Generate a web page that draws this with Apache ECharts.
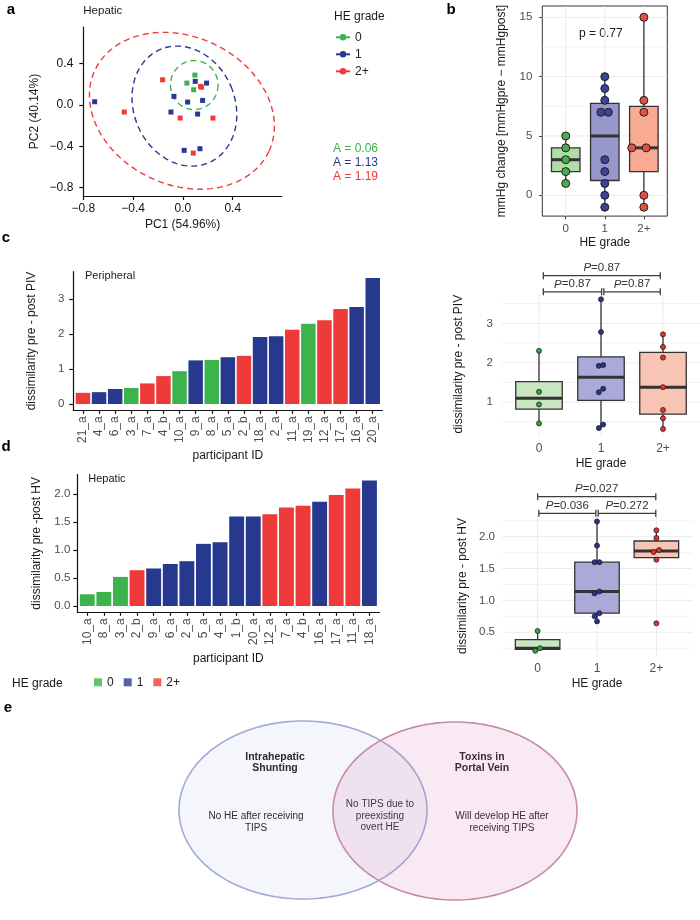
<!DOCTYPE html>
<html>
<head>
<meta charset="utf-8">
<title>TIPS microbiome figure</title>
<script src="https://cdn.jsdelivr.net/npm/echarts@6.0.0/dist/echarts.min.js"></script>
<style>
  html, body { margin: 0; padding: 0; background: #fff; }
  #chart { width: 700px; height: 920px; }
</style>
</head>
<body>
<div id="chart"></div>
<script>
// a: PCoA, b: pressure change, c/d: dissimilarity bars + boxes, e: venn

const FONT = "'Liberation Sans', Arial, Helvetica, sans-serif";
const GRADES = ["0", "1", "2+"];
const GRADE_COL = ["#3cb44b", "#27398f", "#ee3b39"];

// ---- a: PCoA of hepatic samples, [PC1, PC2]
const pcoaG0 = [[0.096, 0.286], [0.032, 0.209], [0.086, 0.145], [0.150, 0.168]];
const pcoaG1 = [[0.099, 0.226], [0.190, 0.209], [-0.072, 0.081], [0.038, 0.026], [0.158, 0.042],
  [-0.096, -0.070], [0.118, -0.090], [-0.709, 0.029], [0.010, -0.440], [0.137, -0.424]];
const pcoaG2 = [[-0.163, 0.241], [0.142, 0.177], [-0.022, -0.128], [0.241, -0.128], [-0.471, -0.070], [0.083, -0.466]];
// ellipses: [centre PC1, centre PC2, semi-axis a, semi-axis b, tilt deg]
const pcoaEllipses = [[0.091, 0.19, 0.191, 0.236, 0], [0.012, -0.013, 0.406, 0.594, -23], [-0.008, -0.058, 0.771, 0.714, 25]];
const pcoaA = ["A = 0.06", "A = 1.13", "A = 1.19"];
const pcoaTicks = [-0.8, -0.4, 0, 0.4];

// ---- b: mmHg change by HE grade, dots with their x jitter (category units)
const mmhgVals = [[5, 4, 3, 2, 1], [10, 9, 8, 7, 7, 3, 2, 1, 0, -1], [15, 8, 7, 4, 4, 0, -1]];
const mmhgJitter = [[0, 0, 0, 0, 0], [0, 0, 0, -0.1, 0.09, 0, 0, 0, 0, 0], [0, 0, 0, -0.31, 0.06, 0, 0]];
const mmhgTicks = [0, 5, 10, 15];
const mmhgP = "p = 0.77";

// ---- c: peripheral (PIV) dissimilarity per participant
const pivIds = ["21_a", "4_a", "6_a", "3_a", "7_a", "4_b", "10_a", "9_a", "8_a", "5_a", "2_b", "18_a", "2_a", "11_a", "19_a", "12_a", "17_a", "16_a", "20_a"];
const pivVals = [0.32, 0.34, 0.43, 0.46, 0.59, 0.80, 0.94, 1.25, 1.26, 1.34, 1.38, 1.92, 1.94, 2.13, 2.30, 2.40, 2.72, 2.78, 3.61];
const pivGrade = [2, 1, 1, 0, 2, 2, 0, 1, 0, 1, 2, 1, 1, 2, 0, 2, 2, 1, 1];
const pivJitter = [0, -0.035, 0.035, 0, 0, 0, 0, -0.035, 0, 0.035, 0, -0.035, 0.035, 0, 0, 0, 0, 0, 0];
const pivTicks = [0, 1, 2, 3];
const pivBrackets = [[1.07, 2.01, 3.80], [2.045, 2.956, 3.80], [1.07, 2.956, 4.21]];
const pivBracketP = ["0.87", "0.87", "0.87"];

// ---- d: hepatic (HV) dissimilarity per participant
const hvIds = ["10_a", "8_a", "3_a", "2_b", "9_a", "6_a", "2_a", "5_a", "4_a", "1_b", "20_a", "12_a", "7_a", "4_b", "16_a", "17_a", "11_a", "18_a"];
const hvVals = [0.21, 0.25, 0.52, 0.64, 0.67, 0.75, 0.80, 1.11, 1.14, 1.60, 1.60, 1.64, 1.76, 1.79, 1.86, 1.98, 2.10, 2.24];
const hvGrade = [0, 0, 0, 2, 1, 1, 1, 1, 1, 1, 1, 2, 2, 2, 1, 2, 2, 1];
const hvJitter = [-0.04, 0.04, 0, 0, 0, -0.04, 0.04, -0.04, 0.04, -0.04, 0.04, 0, -0.045, 0.045, 0, 0, 0, 0];
const hvTicks = [0, 0.5, 1, 1.5, 2];
const hvBrackets = [[1.02, 1.98, 2.367], [2.02, 2.99, 2.367], [1.0, 2.99, 2.628]];
const hvBracketP = ["0.036", "0.272", "0.027"];

// ---- e: venn sketch, page units [cx, cy, rx, ry]
const vennSets = [[303, 810, 124, 89], [455, 811, 122, 89]];
const vennText = [
  ["Intrahepatic\nShunting", 275, 762.5, true],
  ["Toxins in\nPortal Vein", 482, 762.5, true],
  ["No HE after receiving\nTIPS", 256, 822.5, false],
  ["No TIPS due to\npreexisting\novert HE", 380, 816, false],
  ["Will develop HE after\nreceiving TIPS", 502, 822.5, false],
];

// ---------- helpers
function quantile(s, p) {
  const h = (s.length - 1) * p, i = Math.floor(h);
  return i + 1 < s.length ? s[i] + (h - i) * (s[i + 1] - s[i]) : s[i];
}
function boxStats(vals) {
  const s = vals.slice().sort((a, b) => a - b);
  const q1 = quantile(s, 0.25), md = quantile(s, 0.5), q3 = quantile(s, 0.75);
  const f = 1.5 * (q3 - q1);
  const inside = s.filter((v) => v >= q1 - f && v <= q3 + f);
  return [inside[0], q1, md, q3, inside[inside.length - 1]];
}
const byGrade = (vals, grades) => [0, 1, 2].map((g) => vals.filter((v, i) => grades[i] === g));
const minus = (v) => (v < 0 ? "\u2212" : "") + Math.abs(v).toFixed(1);

function gridLines(gi, hMajor, hMinor, vMajor) {
  const data = hMajor.map((v) => [0, v, 1]).concat(hMinor.map((v) => [0, v, 0.6]), vMajor.map((v) => [1, v, 1]));
  return {
    type: "custom", xAxisIndex: gi, yAxisIndex: gi, z: 1, silent: true, data,
    renderItem(p, api) {
      const cs = p.coordSys, v = api.value(1);
      let shape;
      if (api.value(0) === 0) {
        const y = api.coord([2, v])[1];
        shape = { x1: cs.x, y1: y, x2: cs.x + cs.width, y2: y };
      } else {
        const x = api.coord([v, 1])[0];
        shape = { x1: x, y1: cs.y, x2: x, y2: cs.y + cs.height };
      }
      return { type: "line", shape, style: { stroke: "#ebebeb", lineWidth: api.value(2) } };
    },
  };
}

function boxSeries(gi, groups, fills, boxW) {
  return {
    type: "custom", xAxisIndex: gi, yAxisIndex: gi, z: 2, silent: true,
    data: groups.map((vals, i) => [i + 1].concat(boxStats(vals))),
    renderItem(p, api) {
      const x = api.value(0);
      const lo = api.coord([x, api.value(1)]), q1 = api.coord([x, api.value(2)]);
      const md = api.coord([x, api.value(3)]), q3 = api.coord([x, api.value(4)]);
      const hi = api.coord([x, api.value(5)]);
      const hw = api.size([boxW, 0])[0] / 2;
      const stroke = "#333";
      return {
        type: "group", children: [
          { type: "line", shape: { x1: lo[0], y1: lo[1], x2: hi[0], y2: hi[1] }, style: { stroke, lineWidth: 1.3 } },
          { type: "rect", shape: { x: q3[0] - hw, y: q3[1], width: 2 * hw, height: q1[1] - q3[1] },
            style: { fill: fills[p.dataIndex], stroke, lineWidth: 1.3 } },
          { type: "line", shape: { x1: md[0] - hw, y1: md[1], x2: md[0] + hw, y2: md[1] }, style: { stroke, lineWidth: 3 } },
        ],
      };
    },
  };
}

function dotSeries(gi, pts, size, border) {
  return {
    type: "scatter", xAxisIndex: gi, yAxisIndex: gi, z: 3, silent: true,
    symbol: "circle", symbolSize: size,
    itemStyle: { borderColor: "#1f1f1f", borderWidth: border, opacity: 1 },
    data: pts,
  };
}

function bracketSeries(gi, brackets, labels) {
  return {
    type: "custom", xAxisIndex: gi, yAxisIndex: gi, z: 4, silent: true, clip: false,
    data: brackets,
    renderItem(p, api) {
      const a = api.coord([api.value(0), api.value(2)]), b = api.coord([api.value(1), api.value(2)]);
      const st = { stroke: "#3d3d3d", lineWidth: 1.3 };
      return {
        type: "group", children: [
          { type: "line", shape: { x1: a[0], y1: a[1], x2: b[0], y2: b[1] }, style: st },
          { type: "line", shape: { x1: a[0], y1: a[1] - 3.5, x2: a[0], y2: a[1] + 3.5 }, style: st },
          { type: "line", shape: { x1: b[0], y1: b[1] - 3.5, x2: b[0], y2: b[1] + 3.5 }, style: st },
          { type: "text", x: (a[0] + b[0]) / 2, y: a[1] - 1.5,
            style: { text: "{i|P}=" + labels[p.dataIndex], fill: "#333", fontSize: 11.5, fontFamily: FONT,
              align: "center", verticalAlign: "bottom", textAlign: "center", textVerticalAlign: "bottom",
              rich: { i: { fontStyle: "italic", fontSize: 11.5, fontFamily: FONT, fill: "#333" } } } },
        ],
      };
    },
  };
}

function ellipseSeries(gi, ell, color) {
  return {
    type: "custom", xAxisIndex: gi, yAxisIndex: gi, z: 1, silent: true, data: [ell],
    renderItem(p, api) {
      const c = api.coord([api.value(0), api.value(1)]);
      const a = api.size([api.value(2), 0])[0], b = api.size([0, api.value(3)])[1];
      const th = api.value(4) * Math.PI / 180;
      const pts = [];
      for (let k = 0; k <= 160; k++) {
        const t = (k / 160) * 2 * Math.PI, ex = a * Math.cos(t), ey = b * Math.sin(t);
        pts.push([c[0] + ex * Math.cos(th) - ey * Math.sin(th), c[1] + ex * Math.sin(th) + ey * Math.cos(th)]);
      }
      return { type: "polyline", shape: { points: pts }, style: { stroke: color, lineWidth: 1.4, lineDash: [6, 4], fill: null } };
    },
  };
}

function vennSeries(gi) {
  const fills = ["rgba(140,150,210,0.09)", "rgba(205,110,165,0.15)"];
  const strokes = ["#a3a9d8", "#c68aab"];
  return {
    type: "custom", xAxisIndex: gi, yAxisIndex: gi, z: 1, silent: true, data: vennSets,
    renderItem(p, api) {
      const c = api.coord([api.value(0), api.value(1)]);
      const rx = api.size([api.value(2), 0])[0], ry = api.size([0, api.value(3)])[1];
      const pts = [];
      for (let k = 0; k < 180; k++) {
        const t = (k / 180) * 2 * Math.PI;
        pts.push([c[0] + rx * Math.cos(t), c[1] + ry * Math.sin(t)]);
      }
      return { type: "polygon", shape: { points: pts }, style: { fill: fills[p.dataIndex], stroke: strokes[p.dataIndex], lineWidth: 1.6 } };
    },
  };
}

// ---------- axes
const NAME_STYLE = { fontSize: 12, color: "#1a1a1a", fontFamily: FONT };
const GREY_LAB = { color: "#4d4d4d", fontSize: 11.5, fontFamily: FONT };
const catFmt = (v) => GRADES[Math.round(v) - 1];
const seq = (n) => Array.from({ length: n }, (_, i) => i + 1);

function blankAxis(gi, min, max, extra) {
  return Object.assign({
    gridIndex: gi, type: "value", min, max,
    axisLine: { show: false, onZero: false }, axisTick: { show: false },
    axisLabel: { show: false }, splitLine: { show: false },
  }, extra || {});
}

const blackLine = { show: true, onZero: false, lineStyle: { color: "#111", width: 1.2 } };
const blackTick = (vals) => ({ show: true, customValues: vals, length: 4, lineStyle: { color: "#111", width: 1.2 } });

const xAxes = [
  blankAxis(0, -0.8, 0.795, {
    axisLine: blackLine, axisTick: blackTick(pcoaTicks),
    axisLabel: { show: true, customValues: pcoaTicks, formatter: minus, color: "#111", fontSize: 12, margin: 7 },
    name: "PC1 (54.96%)", nameLocation: "middle", nameGap: 23, nameTextStyle: NAME_STYLE,
  }),
  blankAxis(1, 0.4, 3.6, {
    axisTick: { show: true, customValues: [1, 2, 3], length: 3, lineStyle: { color: "#333" } },
    axisLabel: Object.assign({ show: true, customValues: [1, 2, 3], formatter: catFmt, margin: 7 }, GREY_LAB),
    name: "HE grade", nameLocation: "middle", nameGap: 21, nameTextStyle: NAME_STYLE,
  }),
  blankAxis(2, 0.4, 19.6, {
    axisLine: blackLine,
    axisTick: { show: true, customValues: seq(pivIds.length), length: 3.5, lineStyle: { color: "#111", width: 1.2 } },
    axisLabel: Object.assign({ show: true, customValues: seq(pivIds.length), rotate: 90, margin: 6,
      formatter: (v) => pivIds[Math.round(v) - 1] }, GREY_LAB, { fontSize: 12 }),
    name: "participant ID", nameLocation: "middle", nameGap: 39, nameTextStyle: NAME_STYLE,
  }),
  blankAxis(3, 0.4, 3.6, {
    axisLabel: Object.assign({ show: true, customValues: [1, 2, 3], formatter: catFmt, margin: 7 }, GREY_LAB, { fontSize: 12 }),
    name: "HE grade", nameLocation: "middle", nameGap: 22, nameTextStyle: NAME_STYLE,
  }),
  blankAxis(4, 0.4, 18.6, {
    axisLine: blackLine,
    axisTick: { show: true, customValues: seq(hvIds.length), length: 3.5, lineStyle: { color: "#111", width: 1.2 } },
    axisLabel: Object.assign({ show: true, customValues: seq(hvIds.length), rotate: 90, margin: 6,
      formatter: (v) => hvIds[Math.round(v) - 1] }, GREY_LAB, { fontSize: 12 }),
    name: "participant ID", nameLocation: "middle", nameGap: 40, nameTextStyle: NAME_STYLE,
  }),
  blankAxis(5, 0.4, 3.6, {
    axisLabel: Object.assign({ show: true, customValues: [1, 2, 3], formatter: catFmt, margin: 6 }, GREY_LAB, { fontSize: 12 }),
    name: "HE grade", nameLocation: "middle", nameGap: 21, nameTextStyle: NAME_STYLE,
  }),
  blankAxis(6, 0, 700),
];

const yAxes = [
  blankAxis(0, -0.88, 0.75, {
    axisLine: blackLine, axisTick: blackTick(pcoaTicks),
    axisLabel: { show: true, customValues: pcoaTicks, formatter: minus, color: "#111", fontSize: 12, margin: 10 },
    name: "PC2 (40.14%)", nameLocation: "middle", nameGap: 43, nameTextStyle: NAME_STYLE,
  }),
  blankAxis(1, -1.75, 15.95, {
    axisTick: { show: true, customValues: mmhgTicks, length: 3, lineStyle: { color: "#333" } },
    axisLabel: Object.assign({ show: true, customValues: mmhgTicks, margin: 10 }, GREY_LAB),
    name: "mmHg change [mmHgpre \u2212 mmHgpost]", nameLocation: "middle", nameGap: 35, nameTextStyle: NAME_STYLE,
  }),
  blankAxis(2, -0.18, 3.79, {
    axisLine: blackLine, axisTick: blackTick(pivTicks),
    axisLabel: Object.assign({ show: true, customValues: pivTicks, margin: 9 }, GREY_LAB),
    name: "dissimilarity pre - post PIV", nameLocation: "middle", nameGap: 36, nameTextStyle: NAME_STYLE,
  }),
  blankAxis(3, 0.15, 3.775, {
    axisLabel: Object.assign({ show: true, customValues: [1, 2, 3], margin: 9 }, GREY_LAB),
    name: "dissimilarity pre - post PIV", nameLocation: "middle", nameGap: 37, nameTextStyle: NAME_STYLE,
  }),
  blankAxis(4, -0.112, 2.35, {
    axisLine: blackLine, axisTick: blackTick(hvTicks),
    axisLabel: Object.assign({ show: true, customValues: hvTicks, margin: 7, formatter: (v) => v.toFixed(1) }, GREY_LAB),
    name: "dissimilarity pre -post HV", nameLocation: "middle", nameGap: 35, nameTextStyle: NAME_STYLE,
  }),
  blankAxis(5, 0.113, 2.339, {
    axisLabel: Object.assign({ show: true, customValues: [0.5, 1, 1.5, 2], margin: 7, formatter: (v) => v.toFixed(1) }, GREY_LAB),
    name: "dissimilarity pre - post HV", nameLocation: "middle", nameGap: 33, nameTextStyle: NAME_STYLE,
  }),
  blankAxis(6, 0, 920, { inverse: true }),
];

const G = (left, top, width, height, extra) =>
  Object.assign({ left, top, width, height, containLabel: false, outerBoundsMode: "none" }, extra || {});
const grids = [
  G(83.3, 27, 198.6, 169),
  G(542.3, 6, 125, 210.1, { show: true, borderColor: "#333", borderWidth: 1, backgroundColor: "transparent" }),
  G(73.3, 271.7, 309.1, 138.6),
  G(501.8, 292.8, 198.4, 142.8),
  G(77.3, 474.4, 302.1, 137.9),
  G(502, 515.1, 190, 141.8),
  G(0, 0, 700, 920),
];

// ---------- series
const barData = (vals, grades) => vals.map((v, i) => ({ value: [i + 1, v], itemStyle: { color: GRADE_COL[grades[i]] } }));
const boxDots = (vals, grades, jit, cols) =>
  vals.map((v, i) => ({ value: [grades[i] + 1 + jit[i], v], itemStyle: { color: cols[grades[i]] } }));

const B_FILL = ["#b1dba7", "#9897cb", "#f8aa92"];
const B_DOT = ["#4cab4f", "#3d4297", "#e4503f"];
const CD_FILL = ["#c9e6c1", "#aba9d8", "#f8c4b4"];
const CD_DOT = ["#2ea73c", "#26358e", "#ee2e2a"];

const mmhgDots = [];
mmhgVals.forEach((vals, g) => vals.forEach((v, i) =>
  mmhgDots.push({ value: [g + 1 + mmhgJitter[g][i], v], itemStyle: { color: B_DOT[g] } })));

const series = [
  // a
  ...pcoaEllipses.map((e, g) => ellipseSeries(0, e, GRADE_COL[g])),
  ...[pcoaG0, pcoaG1, pcoaG2].map((pts, g) => ({
    type: "scatter", xAxisIndex: 0, yAxisIndex: 0, z: 3, silent: true, symbol: "rect", symbolSize: 5,
    itemStyle: { color: GRADE_COL[g], opacity: 1 }, data: pts,
  })),
  ...GRADES.map((g, i) => ({
    name: "ga" + i, type: "line", xAxisIndex: 0, yAxisIndex: 0, data: [], symbol: "circle", symbolSize: 6,
    itemStyle: { color: GRADE_COL[i] }, lineStyle: { color: GRADE_COL[i], width: 1.5 },
  })),
  // b
  gridLines(1, [0, 5, 10, 15], [2.5, 7.5, 12.5], [1, 2, 3]),
  boxSeries(1, mmhgVals, B_FILL, 0.73),
  dotSeries(1, mmhgDots, 8, 1),
  // c
  { type: "bar", xAxisIndex: 2, yAxisIndex: 2, barWidth: 14.5, silent: true, data: barData(pivVals, pivGrade) },
  gridLines(3, [1, 2, 3], [0.5, 1.5, 2.5, 3.5], [1, 2, 3]),
  boxSeries(3, byGrade(pivVals, pivGrade), CD_FILL, 0.75),
  dotSeries(3, boxDots(pivVals, pivGrade, pivJitter, CD_DOT), 5, 0.8),
  bracketSeries(3, pivBrackets, pivBracketP),
  // d
  { type: "bar", xAxisIndex: 4, yAxisIndex: 4, barWidth: 14.9, silent: true, data: barData(hvVals, hvGrade) },
  gridLines(5, [0.5, 1, 1.5, 2], [0.25, 0.75, 1.25, 1.75, 2.25], [1, 2, 3]),
  boxSeries(5, byGrade(hvVals, hvGrade), CD_FILL, 0.75),
  dotSeries(5, boxDots(hvVals, hvGrade, hvJitter, CD_DOT), 5, 0.8),
  bracketSeries(5, hvBrackets, hvBracketP),
  // e
  vennSeries(6),
  ...GRADES.map((g, i) => ({
    name: "gb" + i, type: "scatter", xAxisIndex: 6, yAxisIndex: 6, data: [], symbol: "rect",
    itemStyle: { color: GRADE_COL[i] },
  })),
];

// ---------- free text
function txt(text, x, y, o) {
  o = o || {};
  const align = o.align || "left";
  return {
    type: "text", x, y, silent: true,
    style: {
      text, fill: o.fill || "#1a1a1a", fontSize: o.size || 12, fontWeight: o.bold ? "bold" : "normal",
      fontFamily: FONT, lineHeight: o.lh, align, textAlign: align, verticalAlign: "middle", textVerticalAlign: "middle",
    },
  };
}

const texts = [
  txt("a", 11, 10, { bold: true, size: 15, align: "center", fill: "#000" }),
  txt("b", 451, 9.5, { bold: true, size: 15, align: "center", fill: "#000" }),
  txt("c", 6, 238, { bold: true, size: 15, align: "center", fill: "#000" }),
  txt("d", 6, 447, { bold: true, size: 15, align: "center", fill: "#000" }),
  txt("e", 8, 708, { bold: true, size: 15, align: "center", fill: "#000" }),
  txt("Hepatic", 83.3, 11, { size: 11.5 }),
  txt("HE grade", 334, 17, { size: 12 }),
  ...pcoaA.map((s, i) => txt(s, 333, 148.7 + 14 * i, { fill: GRADE_COL[i], size: 12 })),
  txt(mmhgP, 600.8, 33.3, { align: "center", size: 12 }),
  txt("Peripheral", 85, 275.7, { size: 11 }),
  txt("Hepatic", 88.3, 479, { size: 11 }),
  txt("HE grade", 12, 683.3, { size: 12 }),
  ...vennText.map((t) => txt(t[0], t[1], t[2], { align: "center", bold: t[3], size: t[3] ? 10.5 : 10, lh: t[3] ? 11.7 : 11.7, fill: "#222" })),
];

const chart = echarts.init(document.getElementById("chart"), null, { renderer: "canvas" });
chart.setOption({
  animation: false,
  backgroundColor: "#fff",
  textStyle: { fontFamily: FONT },
  grid: grids,
  xAxis: xAxes,
  yAxis: yAxes,
  legend: [
    {
      data: ["ga0", "ga1", "ga2"], orient: "vertical", left: 335, top: 31.3, padding: 0,
      itemWidth: 14, itemHeight: 8, itemGap: 5, selectedMode: false,
      formatter: (n) => GRADES[+n.slice(2)], textStyle: { fontSize: 12, color: "#1a1a1a", fontFamily: FONT },
    },
    {
      data: ["gb0", "gb1", "gb2"], orient: "horizontal", left: 94, top: 676.3, padding: 0, icon: "rect",
      itemWidth: 8, itemHeight: 8, itemGap: 10, selectedMode: false,
      formatter: (n) => GRADES[+n.slice(2)], textStyle: { fontSize: 12, color: "#1a1a1a", fontFamily: FONT },
    },
  ],
  graphic: { elements: texts },
  series,
});
</script>
</body>
</html>
